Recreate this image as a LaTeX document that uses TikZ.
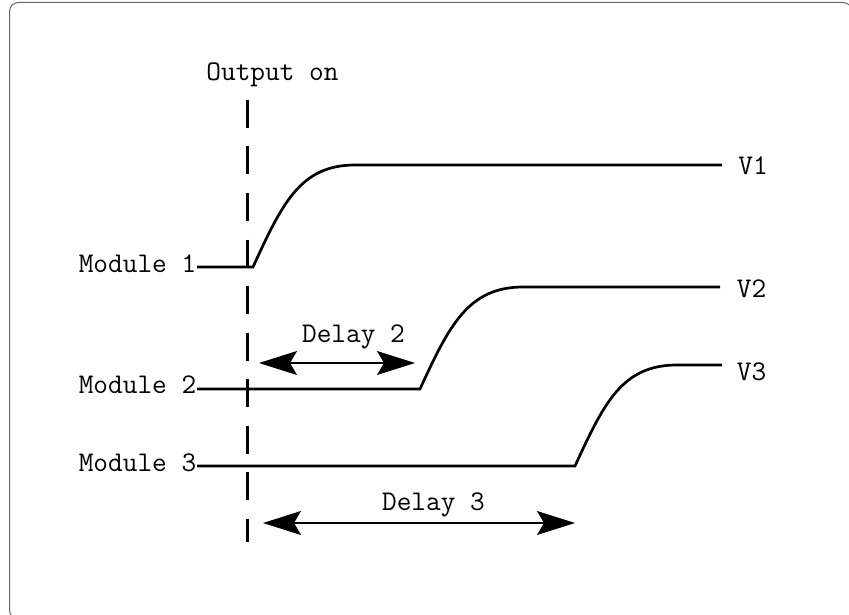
\documentclass[tikz,border=0pt]{standalone}
\usepackage{fontspec}
\usetikzlibrary{arrows.meta}
\begin{document}
\begin{tikzpicture}[x=1pt,y=-1pt,
  lbl/.style={font=\fontsize{28.5}{32}\selectfont\ttfamily, inner sep=0pt, anchor=base},
  signal/.style={line width=2.7pt, line join=miter},
  dimtip/.tip={Stealth[length=38pt,width=24pt,inset=7pt]},
  dim/.style={line width=1.3pt, dimtip-dimtip},
  marker/.style={line width=3pt, dash pattern=on 28pt off 18.5pt},
  frame/.style={draw=black!60, line width=1pt, rounded corners=9pt}]
\useasboundingbox (0,0) rectangle (849,615);
\draw[frame] (9.5,2.5) rectangle (852,619);

% labels
\node[lbl] (outon) at (272.5,81) {Output on};
\node[lbl] (m1lbl) at (137.5,272) {Module 1};
\node[lbl] (m2lbl) at (137.5,393) {Module 2};
\node[lbl] (m3lbl) at (137.5,471) {Module 3};
\node[lbl] (v1) at (753,175) {V1};
\node[lbl] (v2) at (751.5,297) {V2};
\node[lbl] (v3) at (751.5,380) {V3};
\node[lbl] (d2) at (353.5,342) {Delay 2};
\node[lbl] (d3) at (433.5,510) {Delay 3};

% output-on marker
\coordinate (mk1) at (247,100);
\coordinate (mk2) at (247,542);
\draw[marker] (mk1) -- (mk2);

% module 1
\coordinate (m1s) at (197,267);
\coordinate (m1c) at (253,267);
\coordinate (m1t) at (355,165);
\coordinate (m1e) at (722,165);
\draw[signal] (m1s) -- (m1c) .. controls +(29,-63) and +(-55,0) .. (m1t) -- (m1e);

% module 2
\coordinate (m2s) at (197,389);
\coordinate (m2c) at (420,389);
\coordinate (m2t) at (523,287);
\coordinate (m2e) at (720,287);
\draw[signal] (m2s) -- (m2c) .. controls +(29,-63) and +(-55,0) .. (m2t) -- (m2e);

% module 3
\coordinate (m3s) at (197,466);
\coordinate (m3c) at (575,466);
\coordinate (m3t) at (677,365);
\coordinate (m3e) at (722,365);
\draw[signal] (m3s) -- (m3c) .. controls +(29,-63) and +(-55,0) .. (m3t) -- (m3e);

% delays
\coordinate (d2a) at (259,363);
\coordinate (d2b) at (415,363);
\draw[dim] (d2a) -- (d2b);
\coordinate (d3a) at (263,523);
\coordinate (d3b) at (575,523);
\draw[dim] (d3a) -- (d3b);
\end{tikzpicture}
\end{document}
